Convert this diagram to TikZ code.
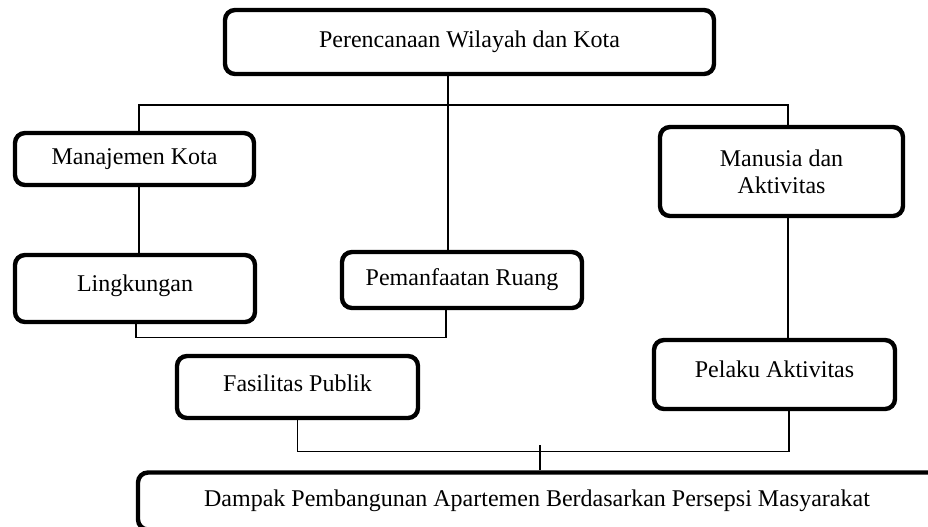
\documentclass[tikz,border=0pt]{standalone}
\usepackage{fontspec}
\setmainfont{Liberation Serif}
\usetikzlibrary{positioning, calc}
\tikzstyle{topic} = [rectangle, rounded corners=5pt, line width=2.2pt, text centered, align=center, draw=black, fill=white, font=\fontsize{12}{13.6}\selectfont]
\tikzstyle{line_solid} = [line width=0.7pt, draw=black]

\begin{document}
\begin{tikzpicture}[x=0.5pt, y=-0.5pt]

	\useasboundingbox (0,0) rectangle (928,526);
	\clip (0,0) rectangle (928,526);
	\fill[white] (0,0) rectangle (928,526);

		\node (perencanaan) at (469.5,42) [topic, minimum width=244.5pt, minimum height=32pt] {Perencanaan Wilayah dan Kota};

		\node (manajemen) at (134.5,159) [topic, minimum width=119.5pt, minimum height=26pt] {Manajemen Kota};

		\node (lingkungan) at (135,288.5) [topic, minimum width=120pt, minimum height=33.5pt, text depth=5pt] {Lingkungan};

		\node (pemanfaatan) at (462,280) [topic, minimum width=120pt, minimum height=28pt] {Pemanfaatan Ruang};

		\node (manusia) at (781.5,171.5) [topic, minimum width=121.5pt, minimum height=44.5pt] {Manusia dan \\ Aktivitas};

		\node (fasilitas) at (297.5,387) [topic, minimum width=120.5pt, minimum height=31pt, text depth=4pt] {Fasilitas Publik};

		\node (pelaku) at (774.5,374.5) [topic, minimum width=120.5pt, minimum height=34.5pt, text depth=5.5pt] {Pelaku Aktivitas};

		\node (dampak) at (544,501) [topic, minimum width=406pt, minimum height=28.5pt] {\hspace*{-7pt}Dampak Pembangunan Apartemen Berdasarkan Persepsi Masyarakat};

		% Lines from the top node
		\draw [line_solid] ([xshift=-10.75pt]perencanaan.south) -- ([xshift=-7pt]pemanfaatan.north);
		\draw [line_solid] ([xshift=2.25pt]manajemen.north) -- ++(0,-26) -| ([xshift=3.25pt]manusia.north);
		% -
		\draw [line_solid] ([xshift=2.25pt]manajemen.south) -- ([xshift=2pt]lingkungan.north);
		\draw [line_solid] ([xshift=0.5pt]lingkungan.south) -- ++(0,13) -| ([xshift=-8pt]pemanfaatan.south);
		% -
		\draw [line_solid] ([xshift=3.25pt]manusia.south) -- ([xshift=6.75pt]pelaku.north);
		\draw [line_solid] (fasilitas.south) -- ++(0,31) -| ([xshift=7.25pt]pelaku.south);
		\draw [line_solid] ([xshift=-2pt]dampak.north) -- ++(0,-25);

\end{tikzpicture}
\end{document}
